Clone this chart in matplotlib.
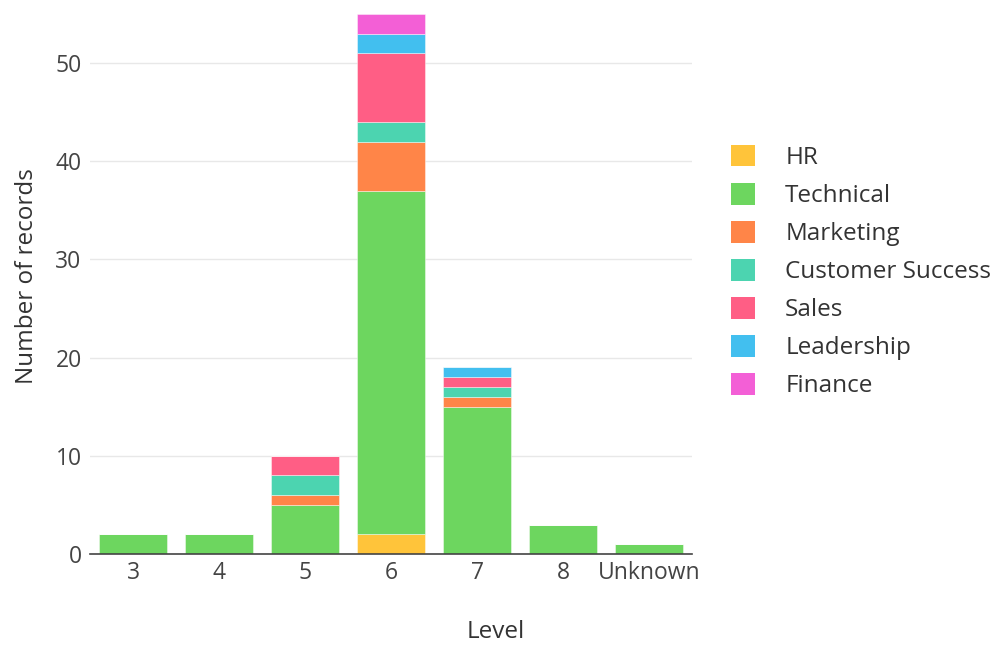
import matplotlib
matplotlib.use("Agg")
import matplotlib.pyplot as plt
from matplotlib.patches import Patch
import numpy as np

plt.rcParams['font.family'] = ['Open Sans', 'DejaVu Sans']

levels = ["3", "4", "5", "6", "7", "8", "Unknown"]
departments = ["HR", "Technical", "Marketing", "Customer Success", "Sales", "Leadership", "Finance"]
hr = [0, 0, 0, 2, 0, 0, 0]
technical = [2, 2, 5, 35, 15, 3, 1]
marketing = [0, 0, 1, 5, 1, 0, 0]
customer_success = [0, 0, 2, 2, 1, 0, 0]
sales = [0, 0, 2, 7, 1, 0, 0]
leadership = [0, 0, 0, 2, 1, 0, 0]
finance = [0, 0, 0, 2, 0, 0, 0]
series = [hr, technical, marketing, customer_success, sales, leadership, finance]
colors = ["#FFC43A", "#6DD65F", "#FF8548", "#4CD4B0", "#FF5E85", "#42BFEF", "#F35FD6"]

TFS = 16.5
LFS = 17.5

fig = plt.figure(figsize=(9.98, 6.52), dpi=100)
ax = fig.add_axes([0.0902, 0.1503, 0.6032, 0.8282])

x = np.arange(len(levels))
bottom = np.zeros(len(levels))
for name, vals, c in zip(departments, series, colors):
    v = np.array(vals, dtype=float)
    ax.bar(x, v, bottom=bottom, width=0.79, color=c, edgecolor=(1, 1, 1, 0.5),
           linewidth=0.6, label=name, zorder=3)
    bottom += v

ax.set_xlim(-0.5, len(levels) - 0.5)
ax.set_ylim(0, 55)
ax.set_yticks([0, 10, 20, 30, 40, 50])
ax.set_xticks(x)
ax.set_xticklabels(levels)
ax.grid(axis='y', color='#e8e8e8', linewidth=1, zorder=0)
for s in ['top', 'right', 'left']:
    ax.spines[s].set_visible(False)
ax.spines['bottom'].set_color('#444444')
ax.spines['bottom'].set_linewidth(1.2)
ax.spines['bottom'].set_zorder(4)
ax.tick_params(axis='y', length=0, pad=6, labelsize=TFS, labelcolor='#444444')
ax.tick_params(axis='x', length=0, pad=5, labelsize=TFS, labelcolor='#444444')
ax.set_ylabel("Number of records", fontsize=LFS, color='#333333')
ax.yaxis.set_label_coords(-0.085, 0.515)
fig.text(0.497, 0.013, "Level", fontsize=LFS, color='#333333', ha='center', va='bottom')

handles = [Patch(facecolor=c, edgecolor='none') for c in colors]
leg = fig.legend(handles, departments, loc='upper left', bbox_to_anchor=(0.732, 0.778),
                 frameon=False, fontsize=LFS, handlelength=1.0, handleheight=1.0,
                 labelspacing=0.53, handletextpad=1.25, borderaxespad=0, borderpad=0)
for t in leg.get_texts():
    t.set_color('#333333')

fig.savefig("out.png", dpi=100)
